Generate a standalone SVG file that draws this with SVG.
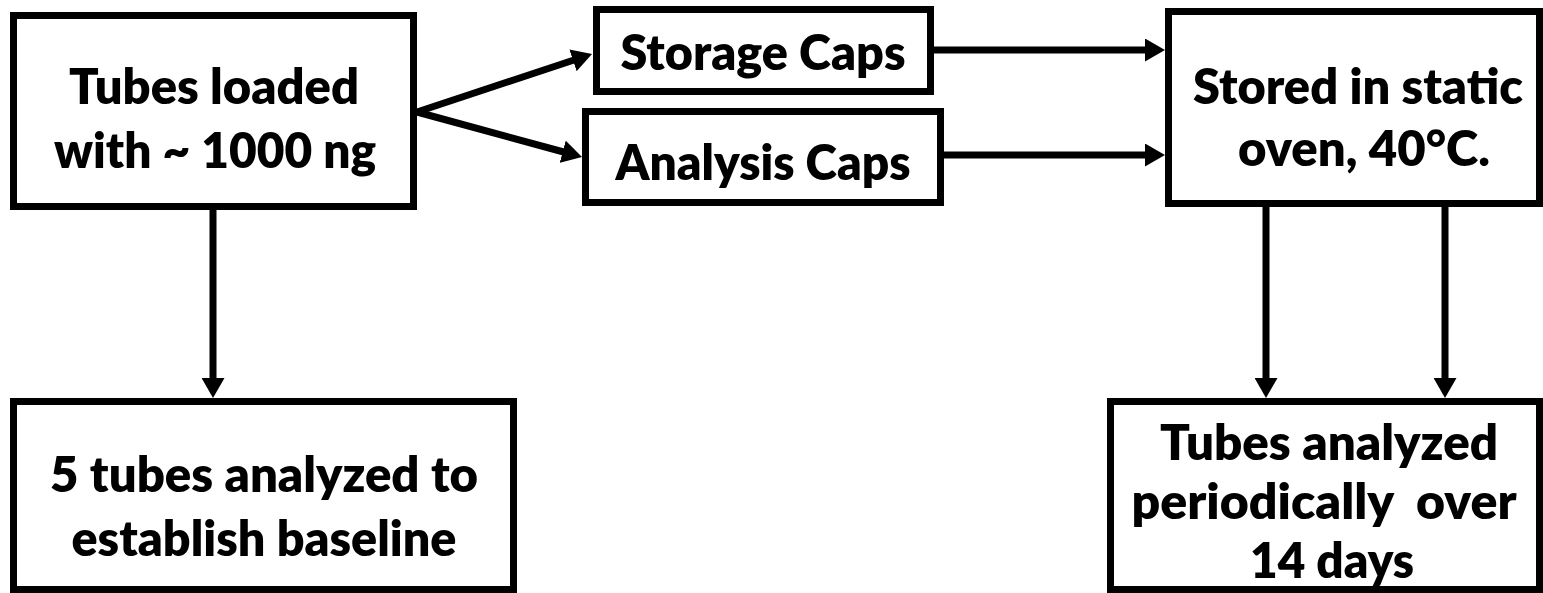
<svg xmlns="http://www.w3.org/2000/svg" width="1543" height="593" viewBox="0 0 1543 593">
  <style>
    .box { fill: #ffffff; stroke: #000000; stroke-width: 7; }
    .lbl { font-family: "Lato", "Open Sans", "Liberation Sans", sans-serif; font-weight: 800; font-size: 49px; fill: #000000; text-anchor: middle; }
    .conn { fill: none; stroke: #000000; stroke-width: 7; }
  </style>
  <defs>
    <marker id="arrow" markerUnits="userSpaceOnUse" markerWidth="20" markerHeight="23" viewBox="0 0 20 23" refX="1" refY="11.5" orient="auto">
      <path d="M0,0 L20,11.5 L0,23 z" fill="#000000"/>
    </marker>
  </defs>
  <rect width="1543" height="593" fill="#ffffff"/>

  <g id="connectors">
    <path class="conn" d="M417,112 L573.97,59.98" marker-end="url(#arrow)"/>
    <path class="conn" d="M417,112 L563.67,152" marker-end="url(#arrow)"/>
    <path class="conn" d="M934,50 L1146,50" marker-end="url(#arrow)"/>
    <path class="conn" d="M944,155 L1146,155" marker-end="url(#arrow)"/>
    <path class="conn" d="M213,210 L213,379" marker-end="url(#arrow)"/>
    <path class="conn" d="M1266,207 L1266,379" marker-end="url(#arrow)"/>
    <path class="conn" d="M1445,207 L1445,379" marker-end="url(#arrow)"/>
  </g>

  <g id="node-loaded">
    <rect class="box" x="13.5" y="15.5" width="400" height="191"/>
    <text class="lbl" x="214" y="104" textLength="290" lengthAdjust="spacingAndGlyphs">Tubes loaded</text>
    <text class="lbl" x="215" y="168" textLength="322" lengthAdjust="spacingAndGlyphs">with ~ 1000 ng</text>
  </g>

  <g id="node-storage">
    <rect class="box" x="596.5" y="9.5" width="334" height="82"/>
    <text class="lbl" x="763" y="70" textLength="285" lengthAdjust="spacingAndGlyphs">Storage Caps</text>
  </g>

  <g id="node-analysis">
    <rect class="box" x="585.5" y="111.5" width="355" height="91"/>
    <text class="lbl" x="763" y="180" textLength="295" lengthAdjust="spacingAndGlyphs">Analysis Caps</text>
  </g>

  <g id="node-oven">
    <rect class="box" x="1168.5" y="11.5" width="371" height="192"/>
    <text class="lbl" x="1358" y="104" textLength="330" lengthAdjust="spacingAndGlyphs">Stored in static</text>
    <text class="lbl" x="1364" y="166" textLength="252" lengthAdjust="spacingAndGlyphs">oven, 40°C.</text>
  </g>

  <g id="node-baseline">
    <rect class="box" x="13.5" y="401.5" width="500" height="188"/>
    <text class="lbl" x="264" y="492" textLength="428" lengthAdjust="spacingAndGlyphs">5 tubes analyzed to</text>
    <text class="lbl" x="264" y="556" textLength="385" lengthAdjust="spacingAndGlyphs">establish baseline</text>
  </g>

  <g id="node-periodic">
    <rect class="box" x="1110.5" y="401.5" width="429" height="188"/>
    <text class="lbl" x="1329" y="460" textLength="338" lengthAdjust="spacingAndGlyphs">Tubes analyzed</text>
    <text class="lbl" x="1324" y="519" textLength="385" lengthAdjust="spacingAndGlyphs" xml:space="preserve">periodically  over</text>
    <text class="lbl" x="1332" y="578" textLength="164" lengthAdjust="spacingAndGlyphs">14 days</text>
  </g>
</svg>
